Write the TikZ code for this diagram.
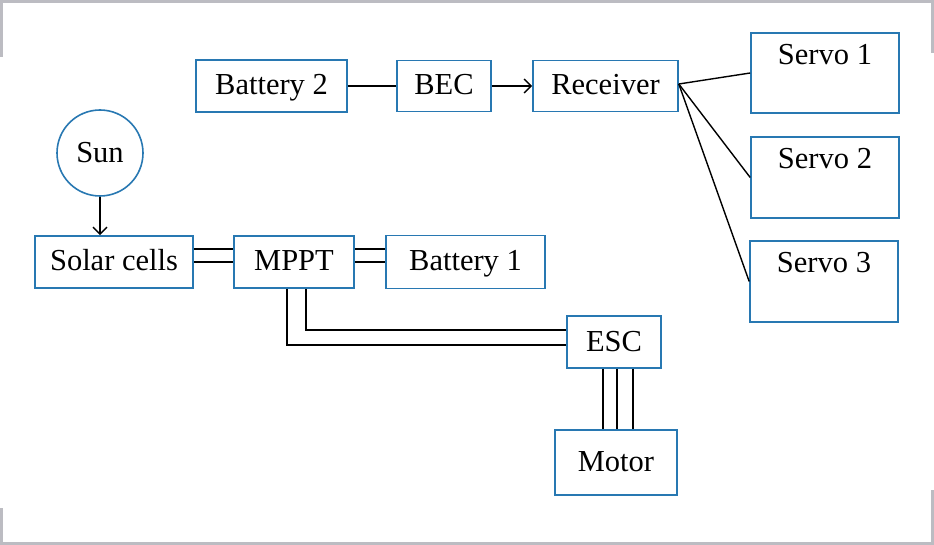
\documentclass[tikz,border=0pt]{standalone}
\usepackage{fontspec}
\setmainfont{Liberation Serif}
\usepackage{tikz}
\usetikzlibrary{shapes,arrows,arrows.meta,positioning}
\definecolor{boxblue}{RGB}{40,120,178}
\definecolor{framegray}{RGB}{188,188,194}
\tikzset{
	txt/.style={font=\fontsize{30.5}{32}\selectfont},
	blk/.style={draw=boxblue,line width=1.6pt,fill=white,inner sep=0pt,txt},
	rblk/.style={blk,text height=21pt,text depth=3pt},
	wire/.style={line width=1.4pt,black},
	tip/.style={-{Straight Barb[length=7pt,width=14pt]}},
	frame/.style={framegray,line width=3pt}
}
\begin{document}
\begin{tikzpicture}[x=1pt,y=-1pt]
				\useasboundingbox (0,0) rectangle (934,545);
				% grey frame round the figure
				\draw[frame] (1.5,57) -- (1.5,1.5) -- (932.5,1.5) -- (932.5,53);
				\draw[frame] (1.5,508) -- (1.5,543.5) -- (932.5,543.5) -- (932.5,490);
				% receiver side
				\node[rblk,minimum width=151,minimum height=52] (bat2) at (271.5,86) {Battery 2};
				\node[rblk,minimum width=94,minimum height=51] (bec) at (444,86) {BEC};
				\node[rblk,minimum width=145,minimum height=51] (rec) at (605.5,86) {Receiver};
				\node[blk,minimum width=148,minimum height=80,
				label={[txt,anchor=north,inner sep=0pt,yshift=-12pt]north:Servo 1}] (s1) at (825,73) {};
				\node[blk,minimum width=148,minimum height=81,
				label={[txt,anchor=north,inner sep=0pt,yshift=-12pt]north:Servo 2}] (s2) at (825,177.5) {};
				\node[blk,minimum width=148,minimum height=81,
				label={[txt,anchor=north,inner sep=0pt,yshift=-12pt]north:Servo 3}] (s3) at (824,281.5) {};
				% power side
				\node[blk,circle,minimum size=86] (sun) at (100,153) {Sun};
				\node[rblk,minimum width=158,minimum height=52] (sol) at (114,262) {Solar cells};
				\node[rblk,minimum width=120,minimum height=52] (mppt) at (294,262) {MPPT};
				\node[rblk,minimum width=159,minimum height=53] (bat1) at (465.5,262) {Battery 1};
				\node[rblk,minimum width=94,minimum height=52] (esc) at (614,342) {ESC};
				\node[rblk,minimum width=122,minimum height=65] (mot) at (616,462.5) {Motor};
				% connectors
				\draw[wire] (bat2.east) -- (bec.west);
				\draw[wire,tip] (bec.east) -- (rec.west);
				\foreach \s in {s1,s2,s3}{
					\draw[wire] ([yshift=2pt]rec.east) -- (\s.west);
				}
				\draw[wire,tip] (sun.south) -- (sun.south |- sol.north);
				\foreach \dy in {0,13}{
					\draw[wire] ([yshift=\dy pt]sol.east) -- ([yshift=\dy pt]mppt.west);
					\draw[wire] ([yshift=\dy pt]mppt.east) -- ([yshift=\dy pt]bat1.west);
				}
				\draw[wire] ([xshift=-7pt]mppt.south) |- ([yshift=-3pt]esc.west);
				\draw[wire] ([xshift=12pt]mppt.south) |- ([yshift=12pt]esc.west);
				\foreach \dx in {-11,3,19}{
					\draw[wire] ([xshift=\dx pt]esc.south) -- ([xshift=\dx pt]esc.south |- mot.north);
				}
\end{tikzpicture}
\end{document}
